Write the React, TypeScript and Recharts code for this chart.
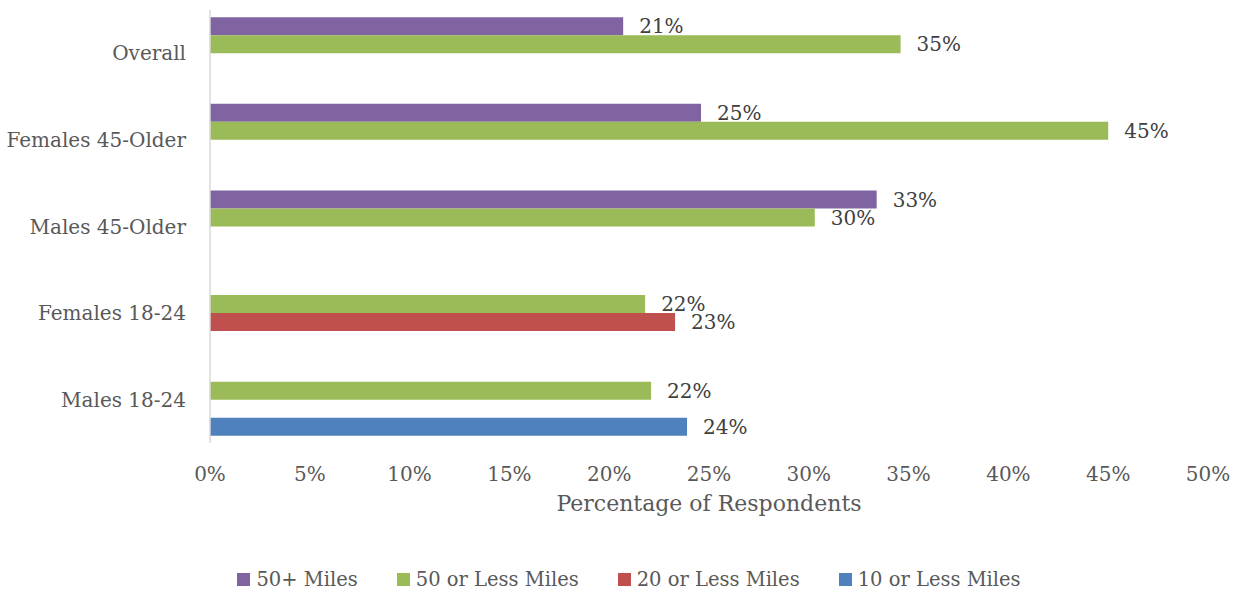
import React from 'react';
import { BarChart, Bar, XAxis, YAxis, Legend, LabelList, Label } from 'recharts';

const categories = ['Overall', 'Females 45-Older', 'Males 45-Older', 'Females 18-24', 'Males 18-24'];
const miles50Plus: (number | null)[] = [20.7, 24.6, 33.4, null, null];
const miles50OrLess: (number | null)[] = [34.6, 45.0, 30.3, 21.8, 22.1];
const miles20OrLess: (number | null)[] = [null, null, null, 23.3, null];
const miles10OrLess: (number | null)[] = [null, null, null, null, 23.9];
const xTicks = [0, 5, 10, 15, 20, 25, 30, 35, 40, 45, 50];
const seriesNames = ['50+ Miles', '50 or Less Miles', '20 or Less Miles', '10 or Less Miles'];
const seriesKeys = ['s0', 's1', 's2', 's3'];
const seriesColors = ['#8064A2', '#9BBB59', '#C0504D', '#4F81BD'];
const axisTitle = 'Percentage of Respondents';

const seriesValues = [miles50Plus, miles50OrLess, miles20OrLess, miles10OrLess];

const data = categories.map((category, i) => {
  const row: Record<string, string | number | null> = { category };
  seriesKeys.forEach((k, j) => {
    row[k] = seriesValues[j][i];
  });
  return row;
});

const FONT = '"DejaVu Serif", serif';

const renderLegend = () => (
  <div
    style={{
      display: 'flex',
      justifyContent: 'center',
      height: 67,
      boxSizing: 'border-box',
      paddingTop: 45,
      paddingLeft: 50,
      fontFamily: FONT,
      fontSize: 19.5,
      color: '#595959',
      gap: 39,
      lineHeight: '23px',
    }}
  >
    {seriesNames.map((n, i) => (
      <div key={n} style={{ display: 'flex', alignItems: 'center' }}>
        <span
          style={{
            display: 'inline-block',
            width: 13,
            height: 13,
            background: seriesColors[i],
            marginRight: 6,
          }}
        />
        {n}
      </div>
    ))}
  </div>
);

const fmt = (v: any) => (v === null || v === undefined || v === '' ? '' : `${Math.round(Number(v))}%`);

export default function App() {
  return (
    <div style={{ position: 'absolute', left: 0, top: 0, width: 1242, height: 592, background: '#fff', fontFamily: FONT }}>
      <BarChart
        width={1242}
        height={592}
        data={data}
        layout="vertical"
        margin={{ top: 10, right: 34, left: 0, bottom: 2 }}
        barCategoryGap="8.4%"
        barGap={0}
      >
        <XAxis
          type="number"
          domain={[0, 50]}
          ticks={xTicks}
          tickFormatter={(v) => `${v}%`}
          axisLine={false}
          tickLine={false}
          tickSize={0}
          tickMargin={24}
          height={80}
          interval={0}
          tick={{ fill: '#595959', fontSize: 20, fontFamily: FONT }}
        >
          <Label
            value={axisTitle}
            position="insideBottom"
            offset={12}
            fill="#595959"
            fontSize={22}
            fontFamily={FONT}
          />
        </XAxis>
        <YAxis
          type="category"
          dataKey="category"
          width={210}
          axisLine={{ stroke: '#D9D9D9', strokeWidth: 1.5 }}
          tickLine={false}
          tickSize={0}
          tickMargin={24}
          interval={0}
          tick={{ fill: '#595959', fontSize: 20, fontFamily: FONT }}
        />
        <Legend verticalAlign="bottom" content={renderLegend} />
        {seriesKeys.map((k, i) => (
          <Bar key={k} dataKey={k} name={seriesNames[i]} fill={seriesColors[i]} isAnimationActive={false}>
            <LabelList
              dataKey={k}
              position="right"
              offset={16}
              formatter={fmt}
              fill="#404040"
              fontSize={20}
              fontFamily={FONT}
            />
          </Bar>
        ))}
      </BarChart>
    </div>
  );
}
